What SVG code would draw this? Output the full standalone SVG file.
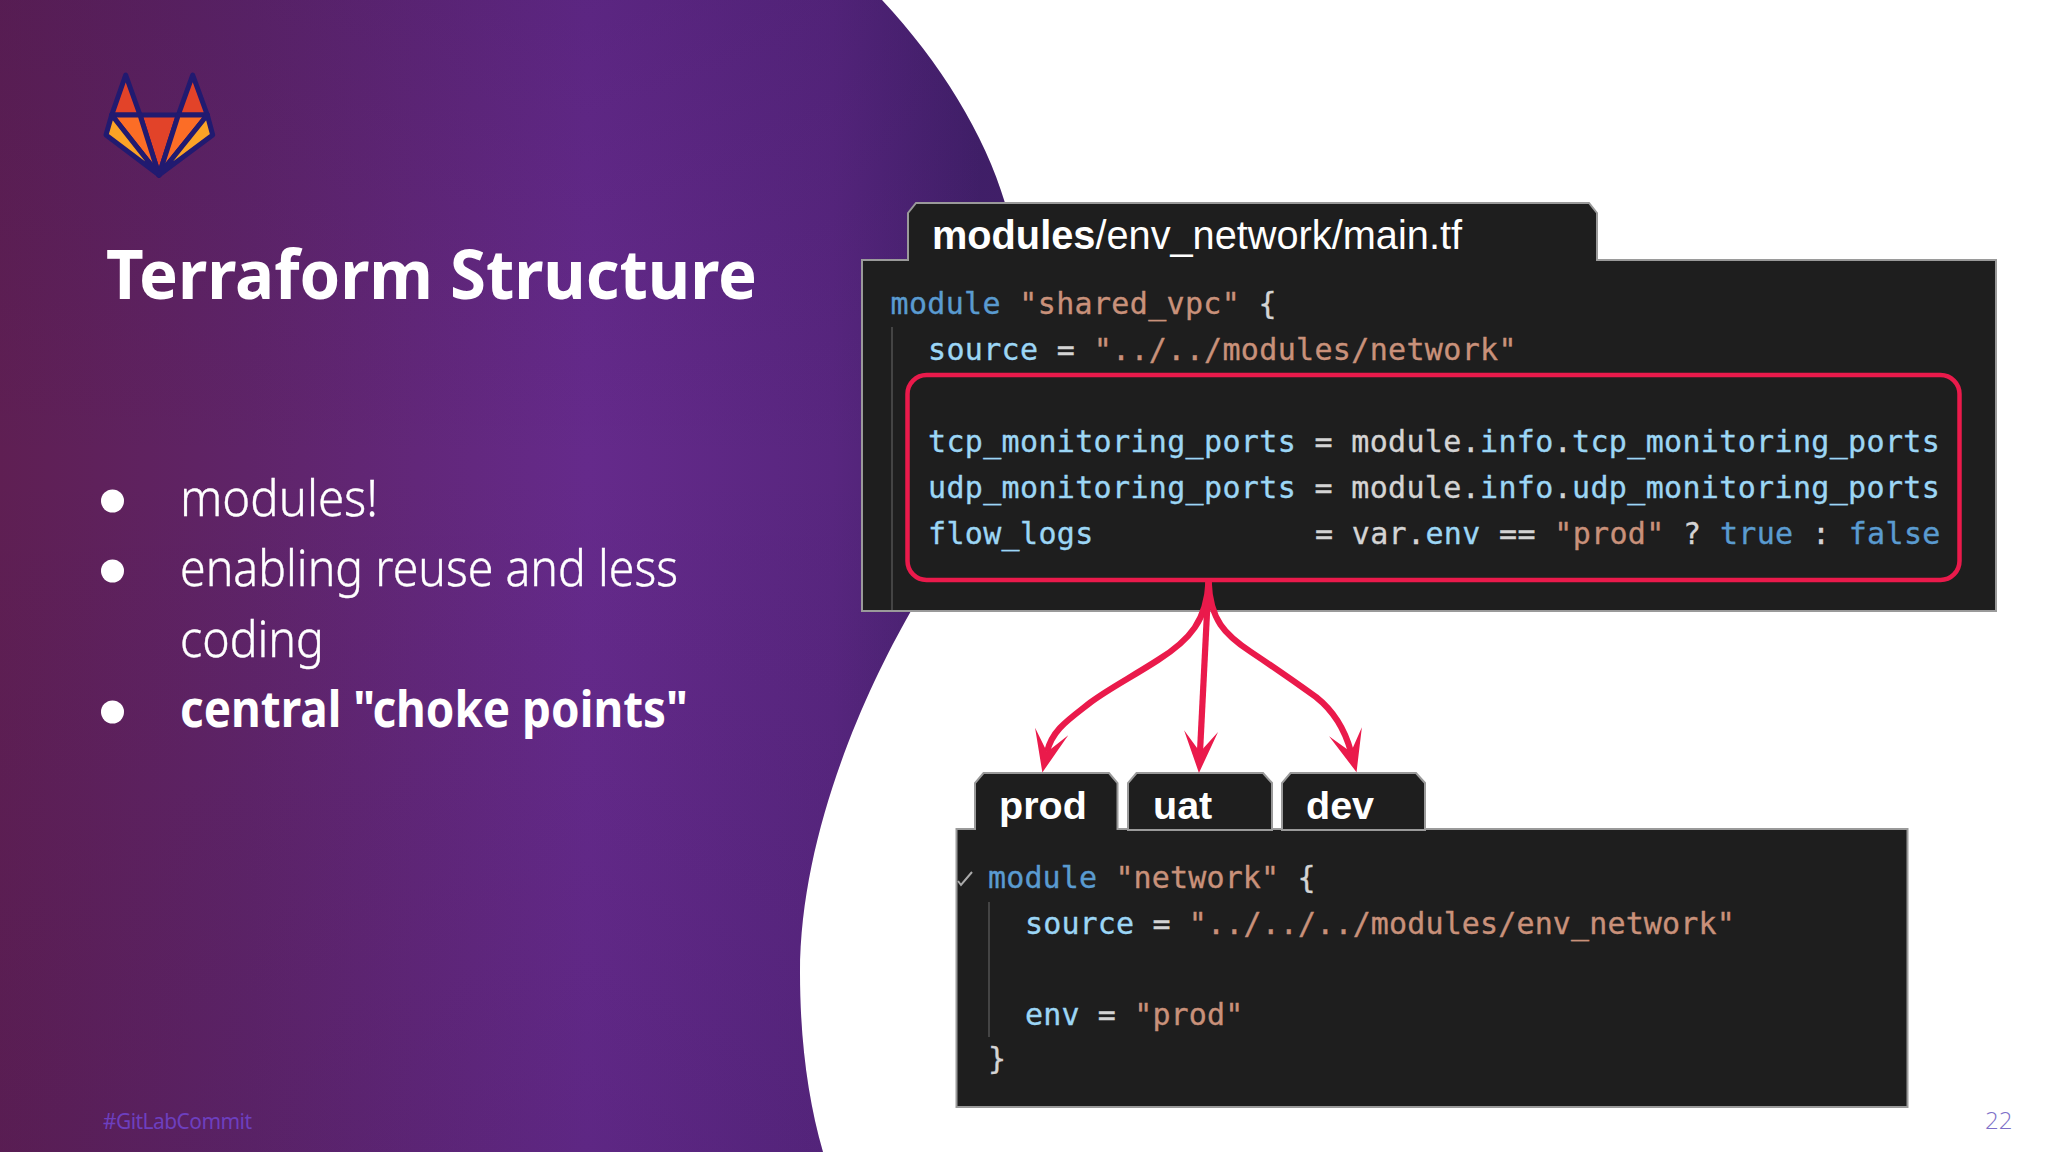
<svg xmlns="http://www.w3.org/2000/svg" width="2048" height="1152" viewBox="0 0 2048 1152">
<style>
.pn{fill:#1e1e1e;stroke:#9a9a9a;stroke-width:2;stroke-linejoin:miter}
.tab{font-family:"Liberation Sans",Arial,sans-serif;fill:#fff;font-size:39.500px;font-weight:700}
.code{font-family:"DejaVu Sans Mono","Liberation Mono",monospace;font-size:30px;letter-spacing:.34px;fill:#d4d4d4;stroke:#d4d4d4;stroke-width:.35px}
.code2{letter-spacing:.14px}
.k{fill:#5a9bd0;stroke:#5a9bd0}.s{fill:#c9917a;stroke:#c9917a}.a{fill:#9cd6f5;stroke:#9cd6f5}
.guide{stroke:#444;stroke-width:2;fill:none}
.body{font-family:"Noto Sans","Open Sans",sans-serif;font-size:50px;font-weight:300;fill:#fff;stroke:#fff;stroke-width:.4px}
.logo path{stroke:#211a70;stroke-width:5;stroke-linejoin:round}
.conn{fill:none;stroke:#ea1a4b;stroke-width:6.200}
</style>
<defs>
<linearGradient id="bg" x1="0" y1="0" x2="980" y2="0" gradientUnits="userSpaceOnUse">
<stop offset="0" stop-color="#5f1f53"/><stop offset=".25" stop-color="#5f2468"/><stop offset=".6" stop-color="#652a8b"/><stop offset=".85" stop-color="#58267f"/><stop offset="1" stop-color="#42206a"/>
</linearGradient>
<linearGradient id="shade" x1="0" y1="0" x2="0" y2="1152" gradientUnits="userSpaceOnUse">
<stop offset="0" stop-color="#2a1050" stop-opacity=".16"/><stop offset=".4" stop-color="#2a1050" stop-opacity="0"/><stop offset="1" stop-color="#2a1050" stop-opacity=".12"/>
</linearGradient>
<marker id="head" markerUnits="userSpaceOnUse" markerWidth="50" markerHeight="50" viewBox="-25 -25 50 50" refX="0" refY="0" orient="auto">
<path d="M21 0L-21 -17L0 0L-21 17Z" fill="#ea1a4b"/>
</marker>
</defs>
<rect width="2048" height="1152" fill="#fff"/>
<path id="bgshape" d="M0 0H882C940 62 985 135 1005 203C1030 300 1000 470 911 611C860 700 800 840 800 973C800 1040 808 1100 823 1152H0Z" fill="url(#bg)"/>
<path d="M0 0H882C940 62 985 135 1005 203C1030 300 1000 470 911 611C860 700 800 840 800 973C800 1040 808 1100 823 1152H0Z" fill="url(#shade)"/>
<g id="logo" class="logo">
<path d="M125.7 75L111.7 115H140Z" fill="#e24329"/>
<path d="M192.7 75L207.3 115H178.3Z" fill="#e24329"/>
<path d="M140 115H178.3L159 175Z" fill="#e24329"/>
<path d="M111.7 115H140L159 175Z" fill="#fc6d26"/>
<path d="M207.3 115H178.3L159 175Z" fill="#fc6d26"/>
<path d="M111.7 115L106 135L159 175Z" fill="#fca326"/>
<path d="M207.3 115L212.7 135L159 175Z" fill="#fca326"/>
</g>
<g id="title"><text x="106" y="299" font-family="Noto Sans,Open Sans,sans-serif" font-size="68" font-weight="700" fill="#fff" textLength="651" lengthAdjust="spacingAndGlyphs">Terraform Structure</text></g>
<g id="bullets">
<circle cx="112.5" cy="501" r="11.5" fill="#fff"/><circle cx="112.5" cy="571" r="11.5" fill="#fff"/><circle cx="112.5" cy="712" r="11.5" fill="#fff"/>
<text class="body" x="180" y="516" textLength="198" lengthAdjust="spacingAndGlyphs">modules!</text>
<text class="body" x="180" y="586" textLength="498" lengthAdjust="spacingAndGlyphs">enabling reuse and less</text>
<text class="body" x="180" y="657" textLength="144" lengthAdjust="spacingAndGlyphs">coding</text>
<text class="body" x="180" y="727" textLength="508" lengthAdjust="spacingAndGlyphs" style="font-weight:700;stroke-width:0">central "choke points"</text>
</g>
<g id="panel-main">
<path class="pn" d="M862 260H908V213L916 203H1589L1597 213V260H1996V611H862Z"/>
<path class="guide" d="M892 327V610"/>
<text x="932" y="249" font-family="Liberation Sans,Arial,sans-serif" font-size="40" fill="#fff" textLength="530" lengthAdjust="spacingAndGlyphs"><tspan font-weight="700">modules</tspan>/env_network/main.tf</text>
<text class="code" x="890.500" y="314"><tspan class="k">module</tspan> <tspan class="s">"shared_vpc"</tspan> {</text>
<text class="code" x="928" y="360"><tspan class="a">source</tspan> = <tspan class="s">"../../modules/network"</tspan></text>
<text class="code" x="928" y="452"><tspan class="a">tcp_monitoring_ports</tspan> = module.<tspan class="a">info</tspan>.<tspan class="a">tcp_monitoring_ports</tspan></text>
<text class="code" x="928" y="498"><tspan class="a">udp_monitoring_ports</tspan> = module.<tspan class="a">info</tspan>.<tspan class="a">udp_monitoring_ports</tspan></text>
<text class="code" x="928" y="544"><tspan class="a">flow_logs</tspan><tspan x="1315">= var.</tspan><tspan class="a">env</tspan> == <tspan class="s">"prod"</tspan> ? <tspan class="k">true</tspan> : <tspan class="k">false</tspan></text>
</g>
<g id="highlight"><rect x="907.500" y="375" width="1052" height="205" rx="19" ry="19" fill="none" stroke="#ea1a4b" stroke-width="4.5"/></g>
<g id="panel-env">
<path class="pn" d="M956.500 829H975V783L983.500 773H1109L1117.500 783V829H1907.500V1107H956.500Z"/>
<path class="pn" d="M1128 830V783L1136.500 773H1263L1272 783V830Z"/>
<path class="pn" d="M1282 830V783L1290.500 773H1416L1425 783V830Z"/>
<text class="tab" x="999" y="819">prod</text>
<text class="tab" x="1153" y="819">uat</text>
<text class="tab" x="1306" y="819">dev</text>
<path d="M958 881L961 885L972 872" fill="none" stroke="#aaa" stroke-width="2"/>
<path class="guide" d="M989 902V1037"/>
<text class="code code2" x="988" y="888"><tspan class="k">module</tspan> <tspan class="s">"network"</tspan> {</text>
<text class="code code2" x="1025" y="934"><tspan class="a">source</tspan> = <tspan class="s">"../../../modules/env_network"</tspan></text>
<text class="code code2" x="1025" y="1025"><tspan class="a">env</tspan> = <tspan class="s">"prod"</tspan></text>
<text class="code code2" x="988" y="1069">}</text>
</g>
<g id="connectors">
<path class="conn" marker-end="url(#head)" d="M1208.600 581C1207 620 1190 640 1158 660C1130 678 1110 688 1091 702C1068 720 1052 730 1047 752"/>
<path class="conn" marker-end="url(#head)" d="M1208.600 581L1200 752"/>
<path class="conn" marker-end="url(#head)" d="M1208.600 581C1210 620 1225 635 1251 652C1275 668 1295 682 1316 697C1335 712 1345 730 1351 752"/>
</g>
<text id="tag" x="103" y="1129" font-family="Noto Sans,Open Sans,sans-serif" font-size="21" fill="#6d3fbf" textLength="149">#GitLabCommit</text>
<text id="page" x="1985" y="1129" font-family="Open Sans,Noto Sans,sans-serif" font-size="24" font-weight="300" fill="#7d6fc8">22</text>
</svg>
